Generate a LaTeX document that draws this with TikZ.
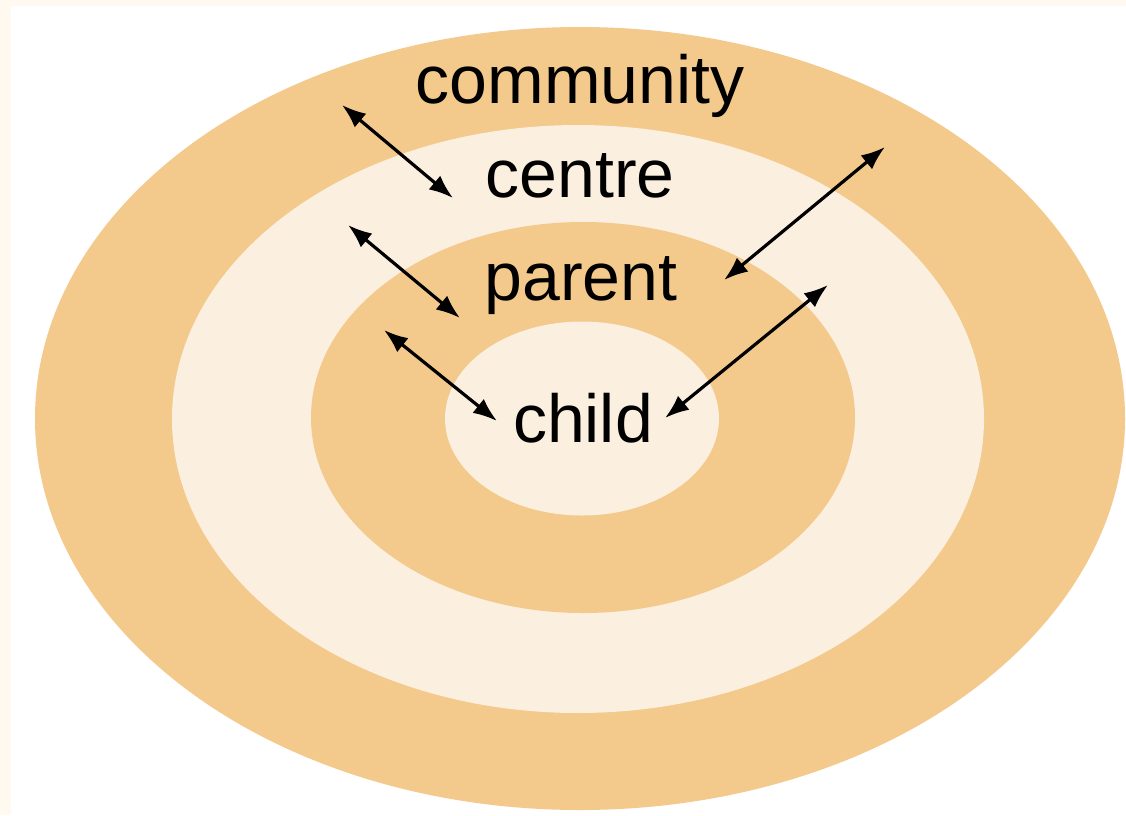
\documentclass[tikz,border=0pt]{standalone}
\usepackage{fontspec}
\setmainfont{Liberation Sans}
\usetikzlibrary{arrows.meta}
\definecolor{ringdark}{RGB}{244,201,140}
\definecolor{ringlight}{RGB}{251,239,224}
\definecolor{paper}{RGB}{255,249,239}
\tikzset{
  ringlabel/.style={anchor=base, inner sep=0pt, font=\fontsize{68}{80}\selectfont, text=black},
  link/.style={draw=black, line width=3.2pt, {Latex[length=24pt,width=18pt]}-{Latex[length=24pt,width=18pt]}}
}
\begin{document}
\begin{tikzpicture}[x=1pt, y=-1pt]
  \useasboundingbox (0,0) rectangle (1126,815);
  % page with a thin cream margin at top and left
  \fill[white] (0,0) rectangle (1126,815);
  \fill[paper] (0,0) rectangle (1126,6);
  \fill[paper] (0,0) rectangle (11,815);

  % concentric rings, outermost first
  \fill[ringdark]  (580,418.5) ellipse [x radius=545pt, y radius=391.5pt];
  \fill[ringlight] (578,419)   ellipse [x radius=406pt, y radius=294pt];
  \fill[ringdark]  (583,417.5) ellipse [x radius=272pt, y radius=195.5pt];
  \fill[ringlight] (582,418.5) ellipse [x radius=137pt, y radius=97pt];

  % ring labels
  \node[ringlabel] (community) at (580,103) {community};
  \node[ringlabel] (centre)    at (580,197) {centre};
  \node[ringlabel] (parent)    at (581,300) {parent};
  \node[ringlabel] (child)     at (583,442) {child};

  % arrow end points
  \coordinate (comA)  at (342,105);
  \coordinate (cenA)  at (453,198);
  \coordinate (cenB)  at (885,147);
  \coordinate (parB)  at (724,280);
  \coordinate (parA)  at (348,225);
  \coordinate (parA2) at (460,318);
  \coordinate (chiA)  at (384,330);
  \coordinate (chiA2) at (497,421);
  \coordinate (chiB)  at (828,285);
  \coordinate (chiB2) at (665,418);

  % two-way links between the rings
  \draw[link] (comA) -- (cenA);
  \draw[link] (cenB) -- (parB);
  \draw[link] (parA) -- (parA2);
  \draw[link] (chiA) -- (chiA2);
  \draw[link] (chiB) -- (chiB2);
\end{tikzpicture}
\end{document}
